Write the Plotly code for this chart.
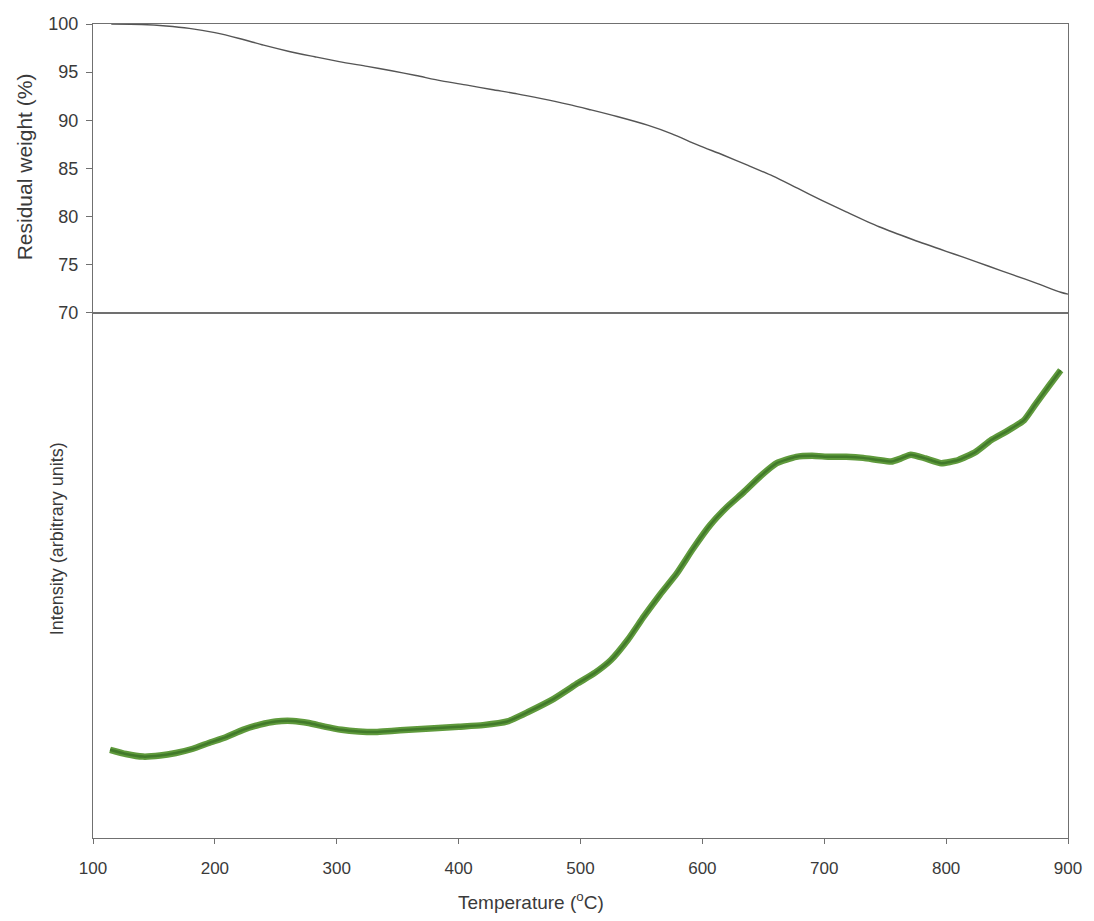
import plotly.graph_objects as go
from plotly.subplots import make_subplots

# Residual weight (TGA) curve
tga_temp = [115, 140, 160, 179, 200, 220, 240, 261, 282, 302, 325, 345, 365, 386, 407, 427,
            448, 468, 490, 508, 530, 555, 575, 596, 617, 637, 658, 678, 698, 718, 745, 773,
            800, 814, 835, 855, 875, 894, 900]
tga_weight = [100.0, 99.95, 99.8, 99.55, 99.1, 98.5, 97.8, 97.15, 96.6, 96.1, 95.6, 95.15, 94.65,
              94.1, 93.65, 93.2, 92.75, 92.25, 91.65, 91.1, 90.4, 89.5, 88.6, 87.45, 86.4, 85.35,
              84.2, 82.95, 81.7, 80.5, 78.95, 77.6, 76.4, 75.8, 74.85, 73.95, 73.05, 72.15, 71.95]

# Evolved gas intensity curve (arbitrary units)
ms_temp = [114, 127, 141, 155, 168, 182, 195, 209, 223, 237, 250, 264, 277, 290, 304, 318,
           332, 345, 359, 380, 400, 420, 440, 457, 478, 498, 512, 525, 539, 552, 565, 579,
           592, 606, 620, 634, 648, 661, 677, 690, 704, 718, 732, 744, 755, 763, 771, 783,
           796, 810, 824, 837, 850, 864, 873, 884, 894]
ms_int = [16.8, 16.0, 15.5, 15.7, 16.2, 17.0, 18.1, 19.2, 20.6, 21.6, 22.2, 22.3, 21.9, 21.2,
          20.6, 20.3, 20.2, 20.4, 20.6, 20.9, 21.2, 21.5, 22.2, 24.0, 26.5, 29.5, 31.5, 33.9,
          37.8, 42.2, 46.3, 50.4, 55.0, 59.5, 63.0, 65.9, 69.0, 71.4, 72.6, 72.8, 72.6, 72.6,
          72.4, 72.0, 71.7, 72.3, 73.0, 72.3, 71.4, 72.0, 73.5, 75.8, 77.5, 79.6, 82.5, 86.0, 89.1]

x_ticks = [100, 200, 300, 400, 500, 600, 700, 800, 900]
y_ticks_top = [70, 75, 80, 85, 90, 95, 100]

fig = make_subplots(rows=2, cols=1, shared_xaxes=True, vertical_spacing=0,
                    row_heights=[0.355, 0.645])

fig.add_trace(go.Scatter(x=tga_temp, y=tga_weight, mode="lines",
                         line=dict(color="#555555", width=1.4, shape="spline", smoothing=0.8),
                         showlegend=False, hoverinfo="skip"), row=1, col=1)

fig.add_trace(go.Scatter(x=ms_temp, y=ms_int, mode="lines",
                         line=dict(color="#5f9a3c", width=6.5, shape="spline", smoothing=0.5),
                         showlegend=False, hoverinfo="skip"), row=2, col=1)
fig.add_trace(go.Scatter(x=ms_temp, y=ms_int, mode="lines",
                         line=dict(color="#417a2a", width=2.5, shape="spline", smoothing=0.5),
                         showlegend=False, hoverinfo="skip"), row=2, col=1)

font_family = "Liberation Sans, Arial, sans-serif"
axis_color = "#707070"
text_color = "#3a3a3a"

fig.update_xaxes(range=[100, 900], showline=True, linecolor=axis_color, linewidth=1.2,
                 mirror=True, showgrid=False, zeroline=False)
fig.update_xaxes(row=1, col=1, ticks="", showticklabels=False)
fig.update_xaxes(row=2, col=1, ticks="outside", ticklen=5, tickcolor=axis_color,
                 tickvals=x_ticks, ticklabelstandoff=9,
                 tickfont=dict(size=17, color=text_color, family=font_family))

fig.update_yaxes(row=1, col=1, range=[70, 100], tickvals=y_ticks_top,
                 ticks="outside", ticklen=6, tickcolor=axis_color, ticklabelstandoff=4,
                 showline=True, linecolor=axis_color, linewidth=1.2, mirror=True,
                 showgrid=False, zeroline=False,
                 tickfont=dict(size=18, color=text_color, family=font_family))
fig.update_yaxes(row=2, col=1, range=[0, 100], showticklabels=False, ticks="",
                 showline=True, linecolor=axis_color, linewidth=1.2, mirror=True,
                 showgrid=False, zeroline=False)

fig.add_annotation(text="Residual weight (%)", xref="paper", yref="paper",
                   x=-0.0694, y=(838 - 167) / 814, xanchor="center", yanchor="middle",
                   textangle=-90, showarrow=False,
                   font=dict(size=21, color=text_color, family=font_family))
fig.add_annotation(text="Intensity (arbitrary units)", xref="paper", yref="paper",
                   x=-0.0367, y=(838 - 539) / 814, xanchor="center", yanchor="middle",
                   textangle=-90, showarrow=False,
                   font=dict(size=18, color=text_color, family=font_family))
fig.add_annotation(text="Temperature (<sup>o</sup>C)", xref="paper", yref="paper",
                   x=(533 - 93) / 980, y=(838 - 901) / 814, xanchor="center", yanchor="middle",
                   showarrow=False,
                   font=dict(size=19, color=text_color, family=font_family))

fig.update_layout(width=1094, height=921, plot_bgcolor="white", paper_bgcolor="white",
                  margin=dict(l=93, r=21, t=24, b=83),
                  font=dict(family=font_family, color=text_color))

fig.write_html("out.html")
